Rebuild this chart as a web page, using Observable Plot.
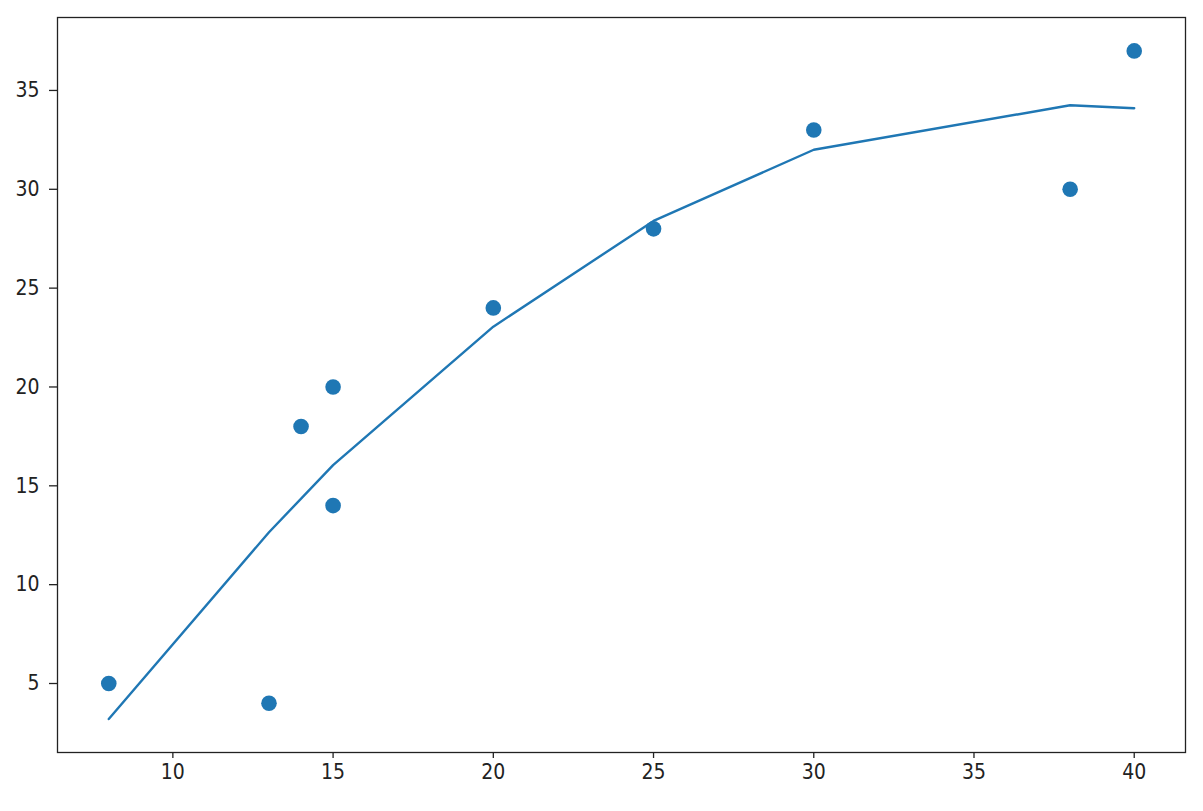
<!DOCTYPE html>
<html>
<head>
<meta charset="utf-8">
<script src="https://cdn.jsdelivr.net/npm/d3@7"></script>
<script src="https://cdn.jsdelivr.net/npm/@observablehq/plot@0.6"></script>
<style>
  html, body { margin: 0; padding: 0; background: #fff; }
  svg { display: block; }
  svg text { font-stretch: condensed; }
</style>
</head>
<body>
<div id="chart"></div>
<script>
const pointX = [8, 13, 14, 15, 15, 20, 25, 30, 38, 40];
const pointY = [5, 4, 18, 20, 14, 24, 28, 33, 30, 37];
const fitX = [8, 13, 15, 20, 25, 30, 38, 40];
const fitY = [3.2, 12.65, 16.05, 23.05, 28.4, 32.0, 34.25, 34.1];
const xTicks = [10, 15, 20, 25, 30, 35, 40];
const yTicks = [5, 10, 15, 20, 25, 30, 35];

const points = pointX.map((x, i) => ({x, y: pointY[i]}));
const fit = fitX.map((x, i) => ({x, y: fitY[i]}));

const blue = "#1f77b4";
const chart = Plot.plot({
  width: 1203,
  height: 811,
  marginLeft: 57,
  marginRight: 18,
  marginTop: 17,
  marginBottom: 59,
  style: {fontFamily: "'DejaVu Sans Condensed', 'DejaVu Sans'", fontSize: "21px", color: "#222", background: "#fff"},
  x: {domain: [6.4, 41.6], label: null},
  y: {domain: [1.51, 38.69], label: null},
  marks: [
    Plot.line(fit, {x: "x", y: "y", stroke: blue, strokeWidth: 2.4}),
    Plot.dot(points, {x: "x", y: "y", r: 7.8, fill: blue}),
    Plot.frame({stroke: "#222", strokeWidth: 1.3}),
    Plot.axisX({ticks: xTicks, tickSize: 6, tickPadding: 6, stroke: "#222", strokeWidth: 1.3, label: null}),
    Plot.axisY({ticks: yTicks, tickSize: 8, tickPadding: 10, stroke: "#222", strokeWidth: 1.3, label: null})
  ]
});
document.getElementById("chart").appendChild(chart);
</script>
</body>
</html>
